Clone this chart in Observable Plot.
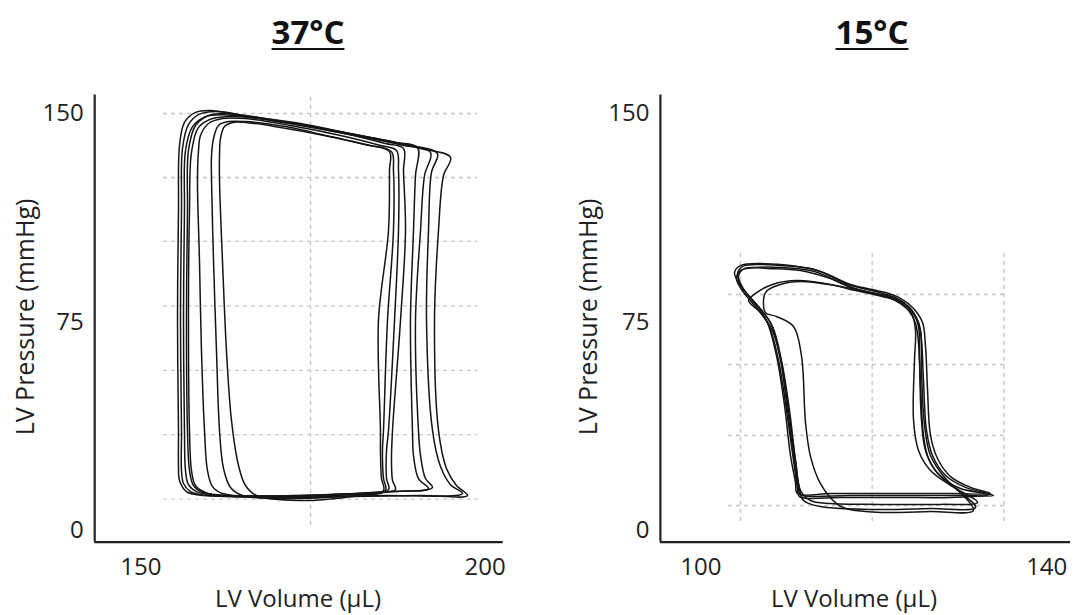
<!DOCTYPE html>
<html><head><meta charset="utf-8">
<script src="https://cdn.jsdelivr.net/npm/d3@7"></script>
<script src="https://cdn.jsdelivr.net/npm/@observablehq/plot@0.6"></script>
<style>
body{margin:0;background:#fff;font-family:"Open Sans",sans-serif;}
#wrap{position:relative;width:1077px;height:615px;overflow:hidden;background:#fff;}
.panel{position:absolute;top:0;}
.title{position:absolute;top:14px;font-weight:bold;font-size:33px;line-height:36px;text-decoration:underline;text-decoration-thickness:2px;text-underline-offset:4px;transform:translateX(-50%);color:#111;white-space:nowrap;}
.xt{position:absolute;font-size:24px;line-height:24px;transform:translate(-50%,-50%);white-space:nowrap;color:#222;}
.yt{position:absolute;font-size:25px;line-height:26px;transform:translate(-50%,-50%) rotate(-90deg);white-space:nowrap;color:#222;}
</style></head>
<body><div id="wrap"></div>
<script>
// ---- text ----
const panelTitles = ["37°C", "15°C"];
const xLabel = "LV Volume (µL)";
const yLabel = "LV Pressure (mmHg)";
// ---- ticks ----
const yTicks = [0, 75, 150];
const xTicks37 = [150, 200];
const xTicks15 = [100, 140];
// ---- inner dashed grid of the recorder (data units) ----
const gridY37 = [150.0, 127.0, 104.0, 80.8, 57.6, 34.5, 11.3];
const gridX37 = [174.64];
const gridY15 = [84.9, 59.7, 34.2, 9.0];
const gridX15 = [104.59, 119.82, 135.04];

// ---- 37°C loops: [volume µL, pressure mmHg] ----
const loop37a = [[155.61,18.0],[156.62,14.0],[158.08,12.9],[167.37,12.2],[180.45,12.2],[190.62,12.6],[197.44,12.6],[195.84,16.2],[194.39,22.3],[193.23,36.0],[192.65,75.5],[193.23,107.9],[193.96,127.7],[194.97,134.2],[190.62,137.4],[184.80,140.3],[173.18,145.7],[164.47,149.3],[160.11,151.1],[157.93,150.4],[156.33,146.8],[155.61,138.5],[155.46,115.1],[155.32,75.5],[155.46,36.0],[155.46,23.4]];
const loop37b = [[155.90,21.6],[156.19,16.9],[157.20,14.0],[158.66,12.9],[170.28,11.9],[184.80,12.6],[196.72,13.3],[194.97,16.5],[193.52,23.0],[192.36,36.0],[191.49,75.5],[191.78,107.9],[192.21,128.8],[193.08,135.6],[189.16,138.5],[183.35,141.4],[173.18,146.0],[165.19,149.3],[160.84,150.7],[158.37,149.6],[156.91,146.0],[156.04,137.4],[155.90,115.1],[155.75,75.5],[155.90,36.0]];
const loop37c = [[156.48,21.6],[156.91,16.5],[158.08,14.0],[160.11,12.9],[173.18,12.6],[186.26,14.0],[192.36,15.5],[191.34,18.7],[190.62,27.0],[190.32,36.0],[189.89,75.5],[190.62,107.9],[191.20,127.7],[192.07,136.0],[187.71,138.8],[181.90,142.1],[173.18,146.0],[165.92,148.6],[161.85,149.6],[159.38,148.9],[157.50,145.3],[156.48,136.7],[156.33,115.1],[156.19,75.5],[156.33,36.0]];
const loop37d = [[157.06,21.6],[157.64,16.2],[158.95,13.7],[161.56,12.6],[174.64,12.2],[186.98,14.0],[191.78,15.1],[190.32,18.7],[189.60,27.0],[189.45,36.0],[189.16,75.5],[189.60,107.9],[189.89,127.7],[190.18,137.8],[186.98,139.6],[181.17,142.4],[173.18,146.4],[165.92,148.9],[162.29,150.0],[159.82,149.3],[157.93,145.7],[156.91,136.7],[156.77,115.1],[156.62,75.5],[156.77,36.0]];
const loop37e = [[157.35,21.6],[157.93,16.2],[159.38,13.7],[162.29,12.6],[173.18,12.6],[183.35,13.7],[186.98,14.7],[186.55,18.0],[186.40,25.2],[186.55,36.0],[187.71,75.5],[188.44,107.9],[188.15,129.5],[188.15,137.4],[185.53,139.2],[180.45,142.4],[173.18,146.0],[165.92,148.6],[162.73,148.9],[160.40,148.2],[158.37,145.0],[157.35,136.0],[157.06,115.1],[156.91,75.5],[157.06,36.0]];
const loop37f = [[159.67,21.6],[160.40,15.8],[161.85,13.3],[167.37,12.2],[177.54,12.9],[185.97,14.7],[185.68,18.7],[185.68,28.8],[185.97,36.0],[186.84,75.5],[187.42,107.9],[187.42,129.5],[187.13,136.7],[184.80,138.5],[178.99,142.1],[171.73,145.7],[165.19,148.2],[161.85,148.2],[159.82,146.4],[158.66,142.1],[158.37,136.7],[158.22,125.9],[158.51,97.1],[158.80,64.7],[159.24,36.0]];
const loop37g = [[162.00,22.3],[163.02,15.5],[164.76,12.6],[171.73,11.5],[178.99,12.2],[185.53,14.4],[185.24,18.7],[185.09,28.8],[185.24,36.0],[185.82,75.5],[186.69,107.9],[186.69,129.5],[186.40,136.3],[183.35,138.5],[177.54,141.7],[171.00,145.3],[165.19,147.1],[162.73,147.1],[161.27,145.7],[160.55,141.0],[160.26,134.9],[160.26,125.9],[160.55,97.1],[160.98,64.7],[161.42,36.0]];
const loop37h = [[164.18,23.4],[165.19,16.2],[166.79,12.6],[173.18,10.8],[179.72,11.9],[185.24,14.4],[184.95,18.7],[184.80,28.8],[184.80,36.0],[184.51,75.5],[185.97,107.9],[186.11,129.5],[186.11,136.3],[182.63,138.8],[176.09,142.4],[170.28,145.0],[165.19,146.8],[163.31,146.8],[162.14,145.3],[161.56,141.0],[161.42,134.9],[161.42,125.9],[161.85,97.1],[162.43,64.7],[163.16,39.6]];

// ---- 15°C loops ----
const loop15a = [[104.24,92.1],[104.82,95.0],[106.90,95.7],[109.22,95.3],[113.15,93.9],[117.08,88.5],[121.01,85.3],[122.63,83.5],[124.25,79.9],[125.17,74.8],[125.52,68.3],[125.75,54.0],[126.10,36.0],[126.79,27.0],[128.30,19.8],[130.61,15.5],[133.85,12.6],[130.03,12.6],[123.09,12.6],[117.31,12.6],[111.53,12.9],[111.30,15.1],[110.84,25.2],[110.03,43.2],[109.22,61.2],[108.06,74.8],[106.33,81.7],[104.82,87.4]];
const loop15b = [[104.13,90.6],[104.59,93.5],[106.33,94.6],[109.22,94.6],[113.15,93.2],[117.08,87.8],[121.01,84.5],[122.51,82.7],[124.02,79.1],[124.83,74.5],[125.17,67.6],[125.41,52.2],[125.75,34.2],[126.33,25.9],[127.72,19.4],[130.03,15.1],[133.27,12.9],[128.88,11.9],[123.09,11.9],[116.15,11.9],[111.41,12.2],[111.18,15.1],[110.72,25.2],[109.91,43.2],[108.99,61.2],[107.83,74.1],[106.21,80.9],[104.71,86.7]];
const loop15c = [[104.36,91.4],[105.05,94.2],[108.06,94.2],[111.53,93.5],[115.00,90.6],[118.47,86.3],[121.94,84.2],[123.44,82.0],[124.48,77.3],[124.83,71.9],[124.71,61.2],[124.60,39.6],[125.17,28.8],[126.56,21.6],[128.88,16.2],[132.00,10.1],[127.72,9.4],[120.78,9.4],[115.00,9.7],[112.69,10.8],[111.53,14.4],[110.95,25.2],[110.26,43.2],[109.33,61.2],[108.29,73.4],[106.67,80.6],[105.05,86.3]];
const loop15d = [[105.52,82.7],[106.33,85.3],[108.29,88.5],[111.07,89.9],[115.00,88.5],[117.31,86.7],[121.01,84.2],[123.09,82.0],[124.48,78.4],[125.17,73.4],[125.29,61.2],[125.52,39.6],[125.98,28.8],[127.14,21.6],[129.45,15.1],[131.77,8.3],[126.56,7.9],[119.62,7.6],[113.84,8.6],[111.88,10.8],[111.41,15.1],[110.95,25.2],[110.14,43.2],[109.33,60.4],[108.29,71.9],[106.90,78.4]];
const loop15e = [[107.48,78.4],[107.48,85.6],[109.22,88.5],[111.53,89.6],[115.58,88.1],[118.47,86.3],[121.94,83.8],[123.67,81.3],[124.83,77.0],[125.41,71.9],[125.52,57.6],[125.87,37.8],[126.56,27.0],[128.30,18.7],[130.03,13.7],[131.53,7.2],[126.56,6.8],[120.78,6.5],[117.89,7.2],[117.08,7.6],[115.81,9.4],[113.84,16.9],[112.69,26.6],[112.11,38.8],[111.64,62.9],[110.72,73.4],[108.75,77.0]];
const loop15f = [[103.90,92.8],[104.59,95.3],[107.48,96.0],[110.37,95.3],[113.84,93.2],[117.31,88.5],[121.36,85.6],[123.09,83.5],[124.60,79.9],[125.64,74.8],[125.98,66.5],[126.22,50.4],[126.56,34.2],[127.37,25.9],[128.88,19.4],[131.19,15.5],[133.50,13.3],[128.88,13.3],[120.78,13.3],[115.00,13.3],[111.18,13.3],[110.95,17.3],[110.37,27.0],[109.68,45.0],[108.75,62.9],[107.60,75.5],[105.75,83.5],[104.48,88.5]];

const loops37 = [loop37a, loop37b, loop37c, loop37d, loop37e, loop37f, loop37g, loop37h];
const loops15 = [loop15a, loop15b, loop15c, loop15d, loop15e, loop15f];

const yDomain = [-4.17, 156.7];

function panel(o) {
  const rows = o.loops.flatMap((pts, i) => pts.map(([v, p]) => ({v, p, loop: i})));
  const grid = {stroke: "#c6c6c6", strokeDasharray: "4,4", strokeWidth: 1.4};
  return Plot.plot({
    width: o.width, height: 615,
    marginLeft: o.marginLeft, marginRight: o.marginRight, marginTop: 94.4, marginBottom: 73.4,
    x: {domain: o.xDomain, label: null},
    y: {domain: yDomain, label: null},
    style: {fontFamily: "'Open Sans', sans-serif", fontSize: "24px", color: "#222", background: "transparent", overflow: "visible"},
    marks: [
      Plot.ruleY(o.gridY, {x1: o.gridXSpan[0], x2: o.gridXSpan[1], ...grid}),
      Plot.ruleX(o.gridX, {y1: o.gridYSpan[0], y2: o.gridYSpan[1], ...grid}),
      Plot.line(rows, {x: "v", y: "p", z: "loop", curve: "catmull-rom-closed", stroke: "#151515", strokeWidth: 1.5}),
      Plot.ruleX([o.xDomain[0]], {stroke: "#222", strokeWidth: 2.2}),
      Plot.ruleY([yDomain[0]], {stroke: "#222", strokeWidth: 2.2}),
      Plot.axisX({ticks: o.xTicks, tickSize: 0, tickPadding: 16, label: null, fontSize: 24, tickFormat: d => String(d)}),
      Plot.axisY({ticks: yTicks, tickSize: 0, tickPadding: 11, label: null, fontSize: 24, tickFormat: d => String(d)})
    ]
  });
}

const wrap = document.getElementById("wrap");
const left = panel({loops: loops37, width: 540, marginLeft: 94.2, marginRight: 37.3, xDomain: [143.29, 202.63], xTicks: xTicks37,
  gridX: gridX37, gridY: gridY37, gridXSpan: [153.27, 198.98], gridYSpan: [1.8, 156.7]});
left.classList.add("panel"); left.style.left = "0px";
wrap.appendChild(left);
const right = panel({loops: loops15, width: 537, marginLeft: 119.9, marginRight: 6.9, xDomain: [95.33, 142.76], xTicks: xTicks15,
  gridX: gridX15, gridY: gridY15, gridXSpan: [103.20, 135.12], gridYSpan: [3.2, 100.0]});
right.classList.add("panel"); right.style.left = "540px";
wrap.appendChild(right);

function addDiv(cls, text, x, y) {
  const d = document.createElement("div");
  d.className = cls; d.textContent = text;
  d.style.left = x + "px";
  if (y !== undefined) d.style.top = y + "px";
  wrap.appendChild(d);
}
addDiv("title", panelTitles[0], 308);
addDiv("title", panelTitles[1], 872);
addDiv("xt", xLabel, 298, 598);
addDiv("xt", xLabel, 854, 598);
addDiv("yt", yLabel, 24, 317);
addDiv("yt", yLabel, 587, 317);
</script>
</body></html>
